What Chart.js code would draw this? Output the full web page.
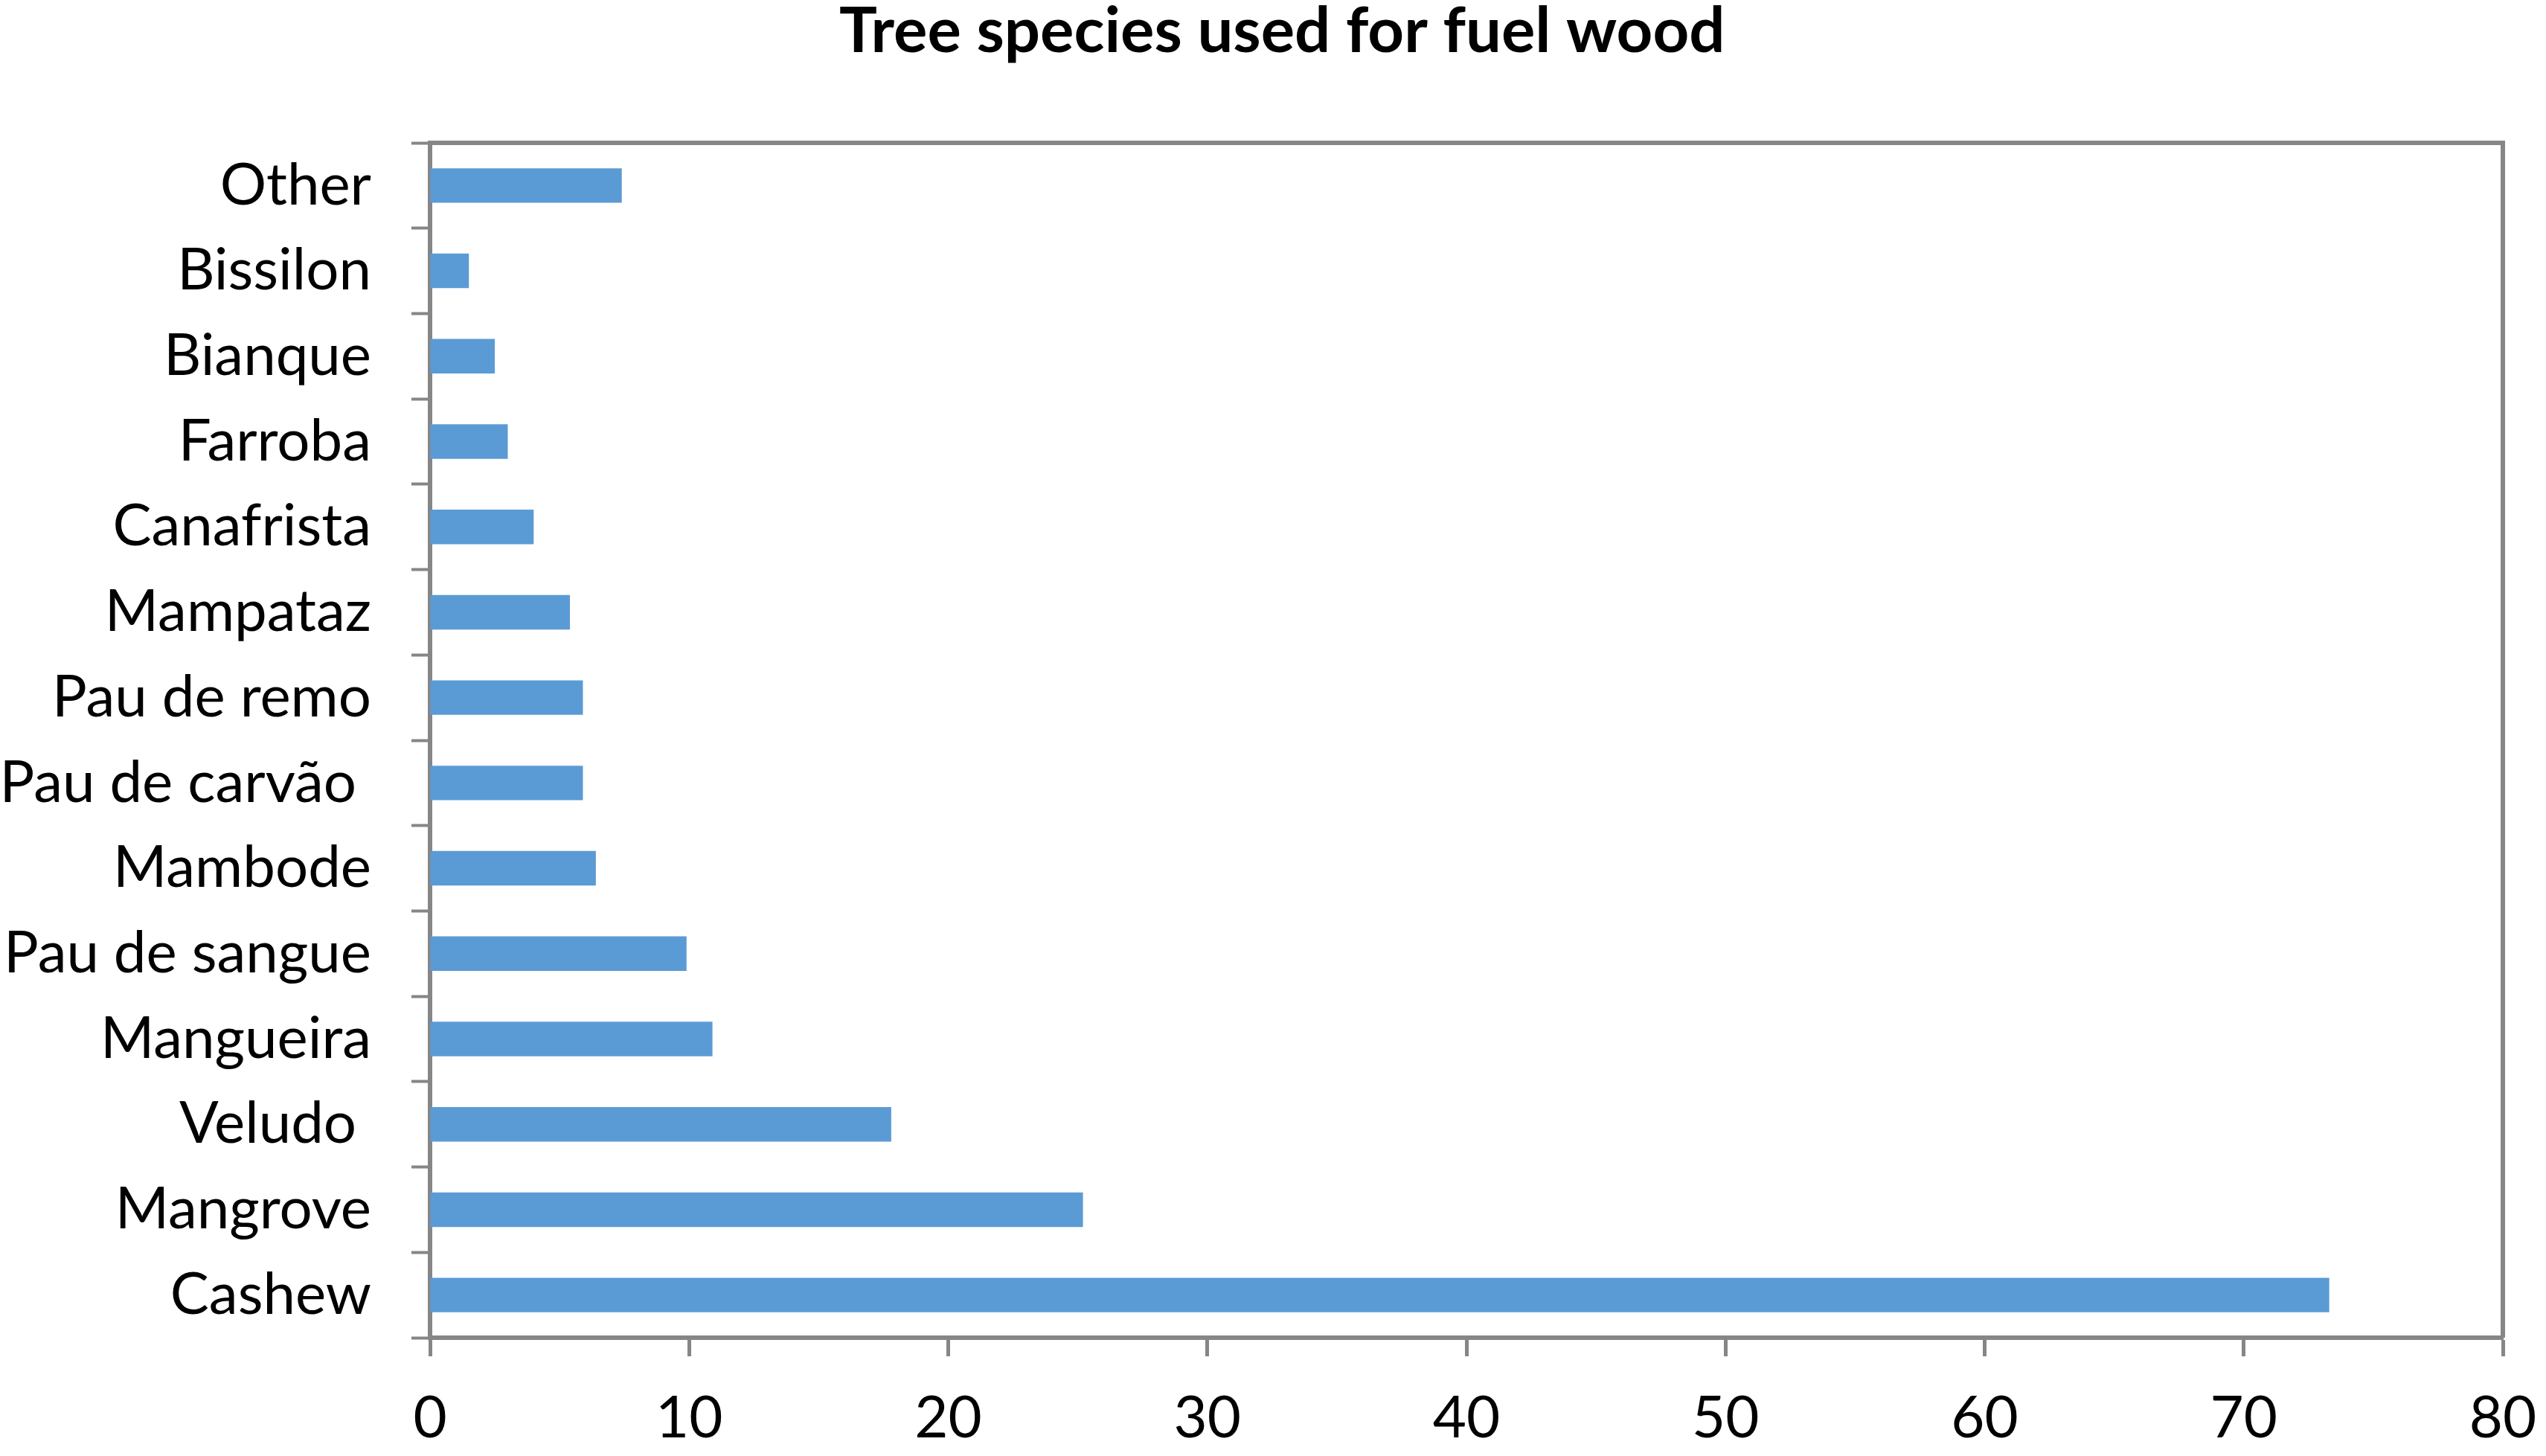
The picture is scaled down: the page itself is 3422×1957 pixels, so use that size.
<!DOCTYPE html>
<html>
<head>
<meta charset="utf-8">
<script src="https://cdn.jsdelivr.net/npm/chart.js@4.4.1/dist/chart.umd.min.js"></script>
<style>
  html, body { margin: 0; padding: 0; background: #ffffff; }
  canvas { display: block; }
</style>
</head>
<body>
<canvas id="fuelChart" width="3422" height="1957"></canvas>
<script>
// Data (bottom to top)
const species = ['Cashew', 'Mangrove', 'Veludo ', 'Mangueira', 'Pau de sangue', 'Mambode',
                 'Pau de carvão ', 'Pau de remo', 'Mampataz', 'Canafrista', 'Farroba',
                 'Bianque', 'Bissilon', 'Other'];
const percentUsed = [73.3, 25.2, 17.8, 10.9, 9.9, 6.4, 5.9, 5.9, 5.4, 4.0, 3.0, 2.5, 1.5, 7.4];
const xTicks = [0, 10, 20, 30, 40, 50, 60, 70, 80];

const axisGrey = '#868686';

// Draw the top and right edges of the plot frame
const plotFrame = {
    id: 'plotFrame',
    beforeDatasetsDraw(chart) {
        const a = chart.chartArea;
        const ctx = chart.ctx;
        ctx.save();
        ctx.strokeStyle = axisGrey;
        ctx.lineWidth = 6;
        ctx.beginPath();
        ctx.moveTo(a.left, a.top);
        ctx.lineTo(a.right, a.top);
        ctx.lineTo(a.right, a.bottom);
        ctx.stroke();
        ctx.restore();
    }
};

Chart.defaults.font.family = "Lato, 'Open Sans', sans-serif";
Chart.defaults.color = '#000000';

new Chart(document.getElementById('fuelChart').getContext('2d'), {
    type: 'bar',
    data: {
        labels: species,
        datasets: [{
            data: percentUsed,
            backgroundColor: '#5B9BD5',
            borderWidth: 0,
            barPercentage: 0.405,
            categoryPercentage: 1
        }]
    },
    options: {
        indexAxis: 'y',
        responsive: false,
        animation: false,
        layout: { padding: { left: 0, right: 58, top: 0, bottom: 0 } },
        plugins: {
            legend: { display: false },
            tooltip: { enabled: false },
            title: {
                display: true,
                // leading spaces nudge the centred title right, as in the original
                text: '    Tree species used for fuel wood',
                color: '#000000',
                font: { size: 85, weight: 'bold', lineHeight: 1.0 },
                padding: { top: 0, bottom: 107 }
            }
        },
        scales: {
            x: {
                min: 0,
                max: 80,
                afterBuildTicks: s => { s.ticks = xTicks.map(v => ({ value: v })); },
                afterFit: s => { s.height = 159; s.paddingRight = 0; s.paddingLeft = 0; },
                border: { display: true, color: axisGrey, width: 6 },
                grid: {
                    drawOnChartArea: false,
                    drawTicks: true,
                    tickLength: 25,
                    tickWidth: 5,
                    tickColor: axisGrey
                },
                ticks: { font: { size: 78 }, padding: 37, maxRotation: 0 }
            },
            y: {
                reverse: true,
                afterFit: s => { s.width = 578; },
                border: { display: true, color: axisGrey, width: 6 },
                grid: {
                    drawOnChartArea: false,
                    drawTicks: true,
                    tickLength: 25,
                    tickWidth: 4,
                    tickColor: axisGrey
                },
                ticks: { font: { size: 78 }, padding: 54, autoSkip: false }
            }
        }
    },
    plugins: [plotFrame]
});
</script>
</body>
</html>
